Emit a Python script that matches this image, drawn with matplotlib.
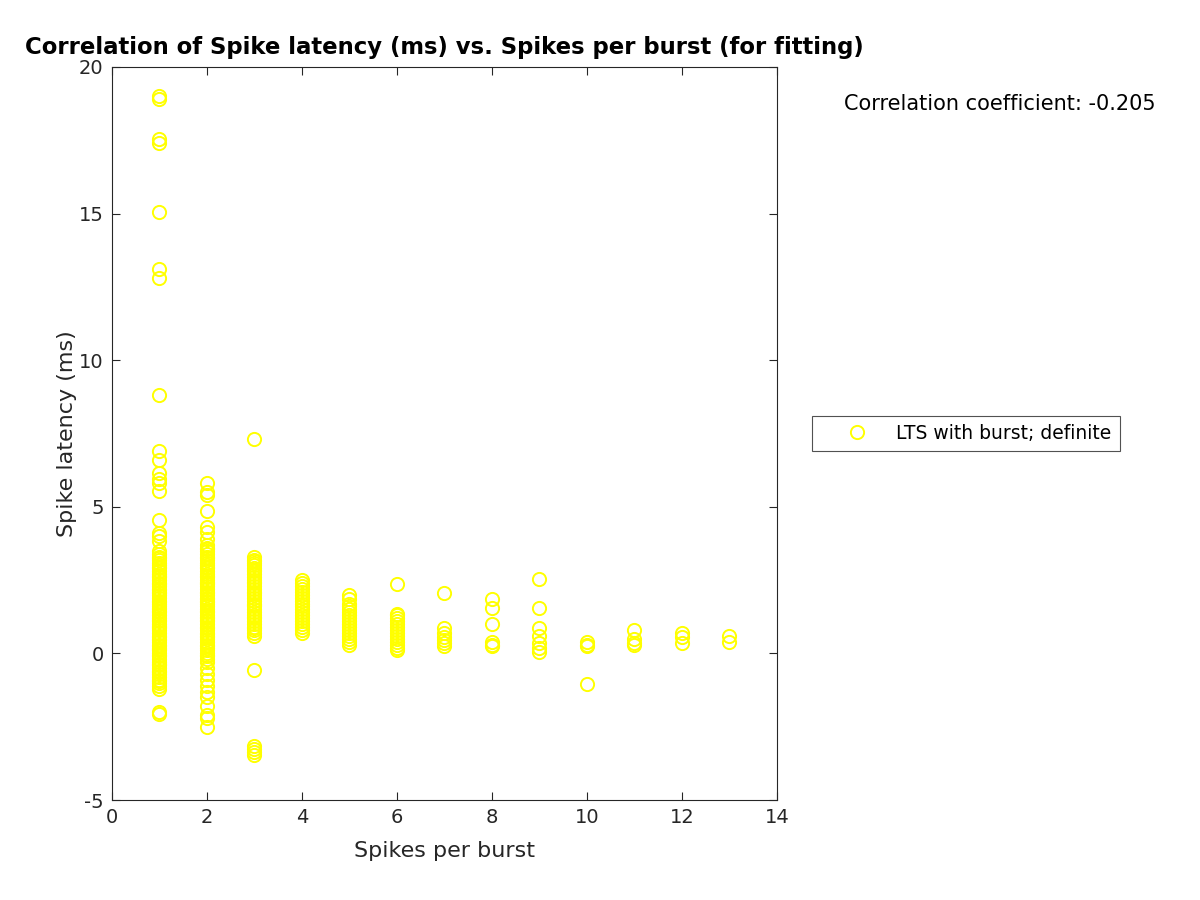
import matplotlib
matplotlib.use("Agg")
import matplotlib.pyplot as plt

plt.rcParams["axes.unicode_minus"] = False

# Spike latency (ms) values grouped by spikes per burst
lat_1 = [19.0, 18.9, 17.55, 17.4, 15.05, 13.1, 12.8, 8.8, 6.9, 6.6, 6.15, 5.95, 5.8, 5.55,
         4.55, 4.1, 4.0, 3.85, 3.5, 3.4, 3.3, 3.2, 3.1, 3.0, 2.9, 2.8, 2.7, 2.6, 2.5, 2.4,
         2.3, 2.2, 2.1, 2.0, 1.9, 1.8, 1.7, 1.6, 1.5, 1.4, 1.3, 1.2, 1.1, 1.0, 0.9, 0.8,
         0.7, 0.6, 0.5, 0.4, 0.3, 0.2, 0.1, 0.0, -0.1, -0.2, -0.3, -0.4, -0.5, -0.6,
         -0.7, -0.8, -0.9, -1.0, -1.1, -1.2, -2.0, -2.05,
         3.25, 2.95, 2.65, 2.35, 2.05, 1.75, 1.45, 1.15, 0.85, 0.55, 0.25, -0.05,
         -0.35, -0.65, -0.95, 2.15, 1.55, 0.95, 0.45, 0.15]
lat_2 = [5.8, 5.5, 5.4, 4.85, 4.3, 4.15, 3.9, 3.7, 3.6, 3.5, 3.4, 3.3, 3.2, 3.1, 3.0, 2.9,
         2.8, 2.7, 2.6, 2.5, 2.4, 2.3, 2.2, 2.1, 2.0, 1.9, 1.8, 1.7, 1.6, 1.5, 1.4, 1.3,
         1.2, 1.1, 1.0, 0.9, 0.8, 0.7, 0.6, 0.5, 0.4, 0.3, 0.2, 0.1, 0.0, -0.1, -0.2,
         -0.3, -0.5, -0.7, -0.9, -1.1, -1.3, -1.5, -1.8, -2.1, -2.2, -2.5,
         3.55, 3.25, 2.95, 2.65, 2.35, 2.05, 1.75, 1.45, 1.15, 0.85, 0.55, 0.25,
         -0.05, 2.45, 1.85, 1.25, 0.65]
lat_3 = [7.3, 3.3, 3.2, 3.1, 3.0, 2.9, 2.8, 2.7, 2.6, 2.5, 2.4, 2.3, 2.2, 2.1, 2.0, 1.9,
         1.8, 1.7, 1.6, 1.5, 1.4, 1.3, 1.2, 1.1, 1.0, 0.9, 0.8, 0.7, 0.6, -0.55,
         -3.15, -3.25, -3.35, -3.45, 3.15, 2.85, 2.45, 2.05, 1.65, 1.25, 0.85]
lat_4 = [2.5, 2.4, 2.3, 2.2, 2.1, 2.0, 1.9, 1.8, 1.7, 1.6, 1.5, 1.4, 1.3, 1.2, 1.1, 1.0,
         0.9, 0.8, 0.7]
lat_5 = [2.0, 1.85, 1.7, 1.6, 1.5, 1.4, 1.3, 1.2, 1.1, 1.0, 0.9, 0.8, 0.7, 0.6, 0.5,
         0.4, 0.3]
lat_6 = [2.35, 1.35, 1.3, 1.2, 1.1, 1.0, 0.9, 0.8, 0.7, 0.6, 0.5, 0.4, 0.3, 0.2, 0.1]
lat_7 = [2.05, 0.85, 0.7, 0.55, 0.45, 0.35, 0.25]
lat_8 = [1.85, 1.55, 1.0, 0.4, 0.3, 0.25]
lat_9 = [2.55, 1.55, 0.85, 0.6, 0.35, 0.2, 0.05]
lat_10 = [0.4, 0.3, 0.25, -1.05]
lat_11 = [0.8, 0.5, 0.35, 0.3]
lat_12 = [0.7, 0.55, 0.35]
lat_13 = [0.6, 0.4]

groups = [lat_1, lat_2, lat_3, lat_4, lat_5, lat_6, lat_7, lat_8, lat_9,
          lat_10, lat_11, lat_12, lat_13]
spikes = []
latency = []
for k, g in enumerate(groups, start=1):
    spikes += [k] * len(g)
    latency += g

corr_text = "Correlation coefficient: -0.205"
legend_label = "LTS with burst; definite"

fig = plt.figure(figsize=(12, 9), dpi=100)
ax = fig.add_axes([0.0933, 0.1111, 0.5542, 0.8145])
ax.plot(spikes, latency, linestyle="none", marker="o", markersize=9.5,
        markerfacecolor="none", markeredgecolor="#ffff00", markeredgewidth=1.4,
        label=legend_label)
ax.set_xlim(0, 14)
ax.set_ylim(-5, 20)
ax.set_xticks(range(0, 15, 2))
ax.set_yticks(range(-5, 21, 5))
ax.tick_params(direction="in", top=True, right=True, labelsize=14,
               colors="#262626", length=6, pad=6)
for s in ax.spines.values():
    s.set_color("#262626")
    s.set_linewidth(0.8)
ax.set_xlabel("Spikes per burst", fontsize=16, color="#262626", labelpad=10)
ax.set_ylabel("Spike latency (ms)", fontsize=16, color="#262626", labelpad=1)
ax.set_title("Correlation of Spike latency (ms) vs. Spikes per burst (for fitting)",
             fontsize=16.4, fontweight="bold", pad=9)
fig.text(0.7035, 0.885, corr_text, fontsize=15, va="center", ha="left")
leg = ax.legend(loc="center left", bbox_to_anchor=(1.0526, 0.5), borderaxespad=0,
                fontsize=13.5, frameon=True, fancybox=False, edgecolor="#262626",
                borderpad=0.45, handlelength=3.9, handletextpad=0.15)
leg.get_frame().set_linewidth(0.8)
fig.savefig("out.png")
